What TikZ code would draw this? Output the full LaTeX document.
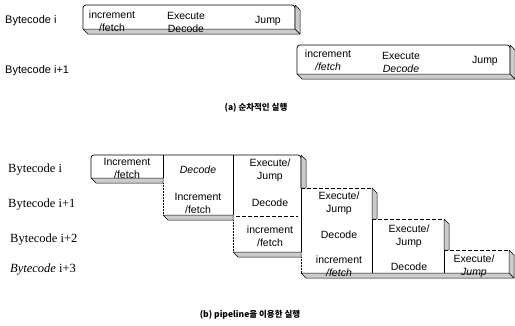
\documentclass[tikz,border=0pt]{standalone}
\usepackage{fontspec}
\setmainfont{Liberation Serif}
\setsansfont{Liberation Sans}
\newfontfamily\krfont{Noto Sans CJK KR}
\usepackage{tikz}

\begin{document}
\begin{tikzpicture}[x=1pt, y=-1pt,
  cell/.style={align=center, font=\sffamily\fontsize{10.5}{13}\selectfont, inner sep=0pt},
  toplbl/.style={anchor=west, font=\sffamily\fontsize{11}{12}\selectfont, inner sep=0pt},
  rowlbl/.style={anchor=west, font=\fontsize{12.5}{14}\selectfont, inner sep=0pt},
  caption/.style={font=\krfont\bfseries\fontsize{8.5}{10}\selectfont, inner sep=0pt},
  face/.style={draw, line width=0.7pt, line join=round},
  shade/.style={draw, line width=0.5pt, fill=gray!40, line join=round},
  thinedge/.style={line width=0.5pt, densely dotted},
  stepedge/.style={line width=0.6pt, dashed, dash pattern=on 4pt off 2pt}
]
\useasboundingbox (0,0) rectangle (515,325);

% (a) sequential execution
\draw[face, rounded corners=3pt] (83,29) -- (83,5) -- (295,5) -- (295,29);
\draw[shade] (83,29) -- (295,29) -- (300,34) -- (88,34) -- cycle;
\draw[shade] (295,5) -- (300,10) -- (300,34) -- (295,29) -- cycle;
\node[toplbl] (seq0) at (5,21) {Bytecode i};
\node[cell] (seq0-fetch) at (112,21) {increment\\/fetch};
\node[cell] (seq0-dec) at (186,22) {Execute\\Decode};
\node[cell] (seq0-jump) at (268,21) {Jump};

\draw[face, rounded corners=3pt] (297,74) -- (297,45) -- (510,45) -- (510,74);
\draw[shade] (297,74) -- (510,74) -- (515,79) -- (302,79) -- cycle;
\draw[shade] (510,45) -- (515,50) -- (515,79) -- (510,74) -- cycle;
\node[toplbl] (seq1) at (5,71) {Bytecode i+1};
\node[cell] (seq1-fetch) at (328,60) {increment\\\textit{/fetch}};
\node[cell] (seq1-dec) at (401,62) {Execute\\\textit{Decode}};
\node[cell] (seq1-jump) at (485,61) {Jump};

\node[caption] (capa) at (256,108) {(a) 순차적인 실행};

% (b) pipelined execution
\draw[face, rounded corners=3pt] (91,178) -- (91,155) -- (301,155) -- (301,188);
\draw[stepedge] (301,188) -- (372,188);
\draw[face] (372,188) -- (372,219);
\draw[stepedge] (372,219) -- (444,219);
\draw[face] (444,219) -- (444,250);
\draw[stepedge] (444,250) -- (509,250);
\draw[face] (509,250) -- (509,273);
\draw[thinedge] (163,183) -- (163,215);
\draw[thinedge] (233,220) -- (233,252);
\draw[thinedge] (301,257) -- (301,273);
% column dividers
\draw[face] (163,155) -- (163,178);
\draw[face] (233,155) -- (233,215);
\draw[face] (301,188) -- (301,252);
\draw[face] (372,219) -- (372,273);
\draw[face] (444,250) -- (444,273);
\draw[stepedge] (236,216) -- (298,216);
% bottom faces
\draw[shade] (91,178) -- (163,178) -- (163,183) -- (96,183) -- cycle;
\draw[shade] (163,215) -- (233,215) -- (233,220) -- (168,220) -- cycle;
\draw[shade] (233,252) -- (301,252) -- (301,257) -- (238,257) -- cycle;
\draw[shade] (301,273) -- (509,273) -- (514,278) -- (306,278) -- cycle;
% side faces
\draw[shade] (301,155) -- (306,160) -- (306,188) -- (301,188) -- cycle;
\draw[shade] (372,188) -- (377,193) -- (377,219) -- (372,219) -- cycle;
\draw[shade] (444,219) -- (449,224) -- (449,250) -- (444,250) -- cycle;
\draw[shade] (509,250) -- (514,255) -- (514,278) -- (509,273) -- cycle;

\node[rowlbl] (pipe0) at (8,170) {Bytecode i};
\node[rowlbl] (pipe1) at (8,205) {Bytecode i+1};
\node[rowlbl] (pipe2) at (10,240) {Bytecode i+2};
\node[rowlbl] (pipe3) at (10,270) {\textit{Bytecode} i+3};

\node[cell] (pipe0-fetch) at (127,168) {Increment\\/fetch};
\node[cell] (pipe0-dec) at (198,170) {\textit{Decode}};
\node[cell] (pipe0-exe) at (270,170) {Execute/\\Jump};
\node[cell] (pipe1-fetch) at (198,203) {Increment\\/fetch};
\node[cell] (pipe1-dec) at (270,203) {Decode};
\node[cell] (pipe1-exe) at (339,203) {Execute/\\Jump};
\node[cell] (pipe2-fetch) at (270,236) {increment\\/fetch};
\node[cell] (pipe2-dec) at (339,235) {Decode};
\node[cell] (pipe2-exe) at (409,236) {Execute/\\Jump};
\node[cell] (pipe3-fetch) at (339,266) {increment\\\textit{/fetch}};
\node[cell] (pipe3-dec) at (409,267) {Decode};
\node[cell] (pipe3-exe) at (474,266) {Execute/\\\textit{Jump}};

\node[caption] (capb) at (250,315) {(b) pipeline을 이용한 실행};
\end{tikzpicture}
\end{document}
